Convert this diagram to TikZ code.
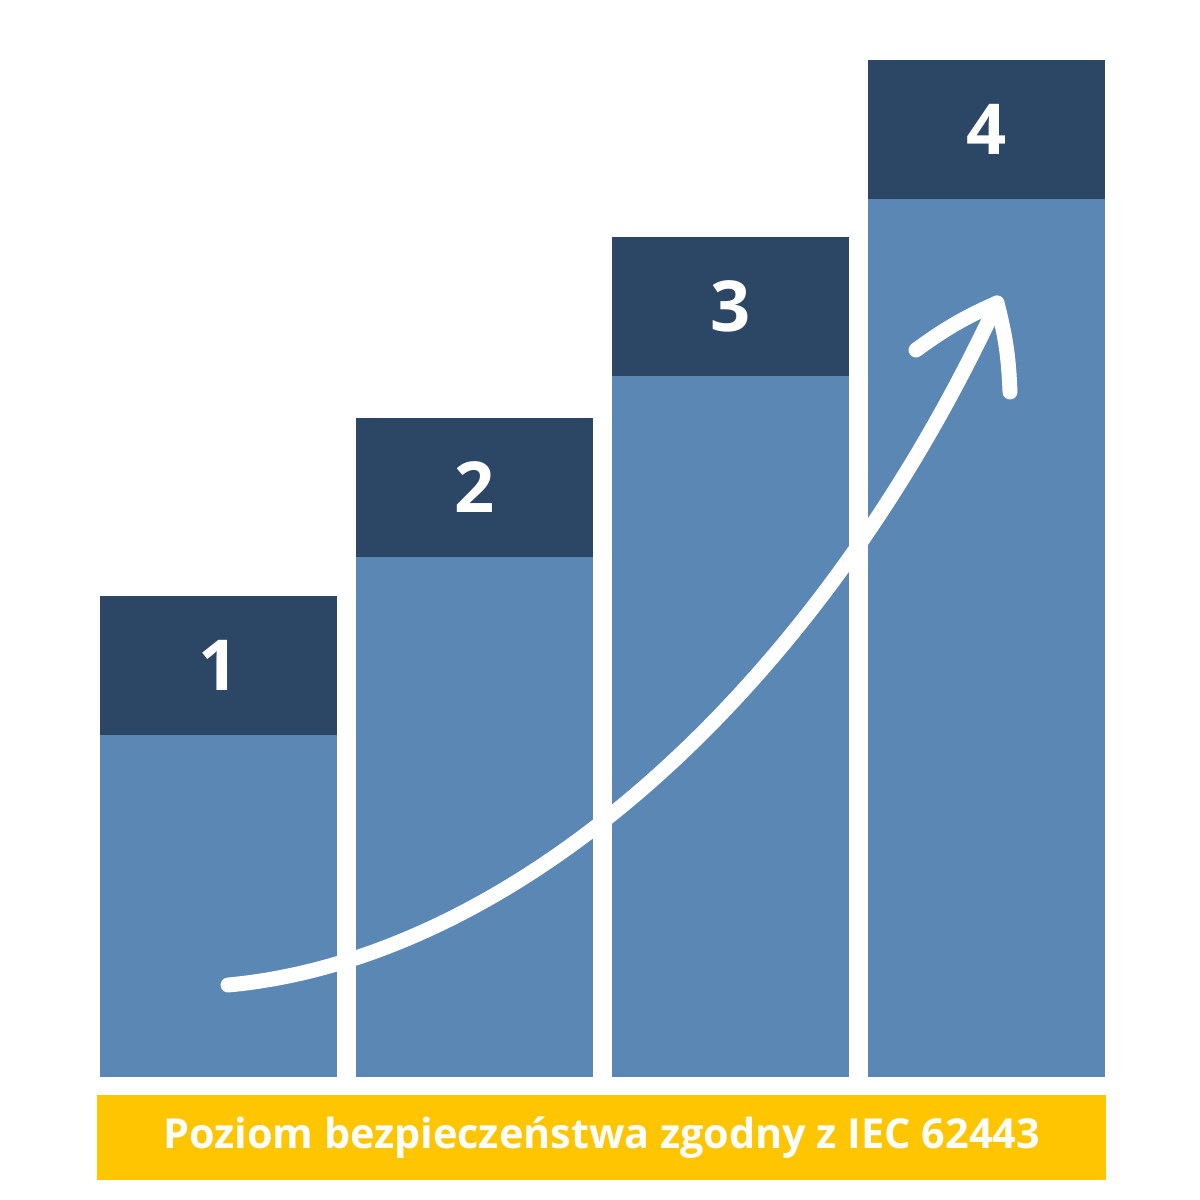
\documentclass[tikz,border=0pt]{standalone}
\usepackage{fontspec}
\setmainfont{Open Sans}
\usetikzlibrary{positioning}

\definecolor{headblue}{HTML}{2C4766}
\definecolor{barblue}{HTML}{5A87B3}
\definecolor{levelyellow}{HTML}{FFC600}

\tikzstyle{bar} = [fill=barblue, inner sep=0pt, outer sep=0pt, minimum width=5.925cm, anchor=south west]
\tikzstyle{head} = [fill=headblue, text=white, inner sep=0pt, outer sep=0pt, minimum width=5.925cm, minimum height=3.475cm, font=\fontsize{50}{50}\selectfont\bfseries]
\tikzstyle{arrow} = [white, line width=15pt*0.709, line cap=round, line join=round]

\begin{document}
\begin{tikzpicture}[x=0.025cm, y=-0.025cm]
  \useasboundingbox (0,0) rectangle (1200,1200);

  \node[bar, minimum height=8.55cm] (bar1) at (100,1077) {};
  \node[bar, minimum height=13cm] (bar2) at (356,1077) {};
  \node[bar, minimum height=17.525cm] (bar3) at (612,1077) {};
  \node[bar, minimum height=21.95cm] (bar4) at (868,1077) {};

  \node[head, above=0pt of bar1] (head1) {1};
  \node[head, above=0pt of bar2] (head2) {2};
  \node[head, above=0pt of bar3] (head3) {3};
  \node[head, above=0pt of bar4] (head4) {4};

  \node[fill=levelyellow, text=white, minimum width=25.225cm, minimum height=2.125cm,
        font=\fontsize{29.4}{30}\selectfont\bfseries] (level) at (601.5,1137.5)
        {Poziom bezpieczeństwa zgodny z IEC 62443};

  % growth arrow
  \coordinate (start) at (228,985);
  \coordinate (tip) at (997,303);
  \coordinate (wingl) at (916,350);
  \coordinate (wingr) at (1010,392);
  \draw[arrow] (start) .. controls (520,958) and (820,685) .. (tip);
  \draw[arrow] (wingl) to[bend left=6] (tip) to[bend left=6] (wingr);

\end{tikzpicture}
\end{document}
